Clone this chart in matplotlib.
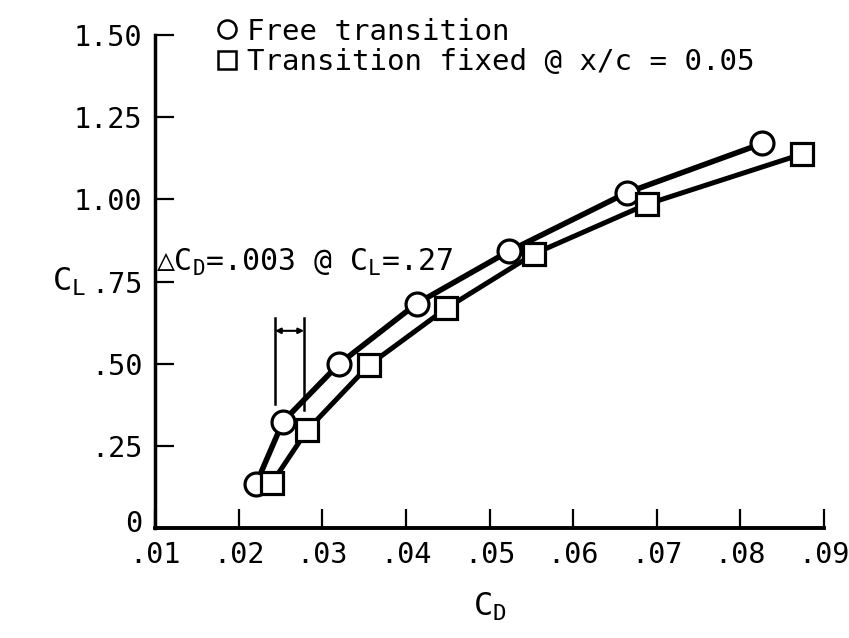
import matplotlib
matplotlib.use('Agg')
import matplotlib.pyplot as plt
import matplotlib.transforms as mtransforms
from matplotlib.lines import Line2D

# Drag polar
cd_free = [0.0221, 0.0253, 0.0320, 0.0413, 0.0523, 0.0664, 0.0826]
cl_free = [0.135, 0.324, 0.499, 0.683, 0.842, 1.020, 1.170]

cd_fixed = [0.0240, 0.0282, 0.0356, 0.0448, 0.0553, 0.0688, 0.0874]
cl_fixed = [0.138, 0.298, 0.496, 0.668, 0.834, 0.985, 1.138]

x_ticks = [0.01, 0.02, 0.03, 0.04, 0.05, 0.06, 0.07, 0.08, 0.09]
x_labels = ['.01', '.02', '.03', '.04', '.05', '.06', '.07', '.08', '.09']
y_ticks = [0, 0.25, 0.50, 0.75, 1.00, 1.25, 1.50]
y_labels = ['0', '.25', '.50', '.75', '1.00', '1.25', '1.50']

# Delta CD dimension marker
dim_x = [0.02435, 0.02782]
dim_top = 0.638
dim_bottom = [0.377, 0.359]
dim_arrow_y = 0.60

plt.rcParams['font.family'] = ['DejaVu Sans Mono', 'DejaVu Sans']
plt.rcParams['mathtext.fontset'] = 'custom'
plt.rcParams['mathtext.rm'] = 'DejaVu Sans Mono'

fig = plt.figure(figsize=(8.49, 6.38), dpi=100)
ax = fig.add_axes([0.1826, 0.1724, 0.788, 0.7727])

ax.plot(cd_free, cl_free, color='black', lw=4.0, zorder=2)
ax.plot(cd_fixed, cl_fixed, color='black', lw=3.6, zorder=2)
ax.plot(cd_free, cl_free, 'o', ms=16.5, mfc='white', mec='black', mew=2.3, zorder=3)
ax.plot(cd_fixed, cl_fixed, 's', ms=15.5, mfc='white', mec='black', mew=2.3, zorder=3)

# dimension lines
for xv, yb in zip(dim_x, dim_bottom):
    ax.plot([xv, xv], [yb, dim_top], color='black', lw=1.8, zorder=1)
ax.annotate('', xy=(dim_x[0], dim_arrow_y), xytext=(dim_x[1], dim_arrow_y),
            arrowprops=dict(arrowstyle='<|-|>', color='black', lw=1.5,
                            mutation_scale=8, shrinkA=0, shrinkB=0))

ax.text(0.0101, 0.76, '\u25b3C$_{\\mathrm{D}}$=.003 @ C$_{\\mathrm{L}}$=.27',
        fontsize=21.5, va='bottom', ha='left')

ax.set_xlim(0.01, 0.09)
ax.set_ylim(0, 1.5)
ax.set_xticks(x_ticks)
ax.set_xticklabels(x_labels)
ax.set_yticks(y_ticks)
ax.set_yticklabels(y_labels)

ax.spines['top'].set_visible(False)
ax.spines['right'].set_visible(False)
ax.spines['left'].set_linewidth(2.5)
ax.spines['bottom'].set_linewidth(2.8)
ax.tick_params(direction='in', length=14, width=1.6, labelsize=20.5, pad=9)

# nudge the "0" label up a little so it clears ".01"
zero_lbl = ax.get_yticklabels()[0]
zero_lbl.set_transform(zero_lbl.get_transform() +
                       mtransforms.ScaledTranslation(0, 5 / 72, fig.dpi_scale_trans))

ax.set_xlabel('C$_{\\mathrm{D}}$', fontsize=23, labelpad=16)
ax.set_ylabel('C$_{\\mathrm{L}}$', fontsize=23, rotation=0, va='center')
ax.yaxis.set_label_coords(-0.128, 0.50)

handles = [
    Line2D([], [], marker='o', ls='none', ms=13, mfc='white', mec='black', mew=1.8),
    Line2D([], [], marker='s', ls='none', ms=13, mfc='white', mec='black', mew=1.8),
]
fig.legend(handles, ['Free transition', 'Transition fixed @ x/c = 0.05'],
           loc='upper left', bbox_to_anchor=(0.233, 1.0), frameon=False,
           fontsize=21, handlelength=0.8, handletextpad=0.3,
           labelspacing=0.1, borderaxespad=0.2)

fig.savefig('out.png', dpi=100)
